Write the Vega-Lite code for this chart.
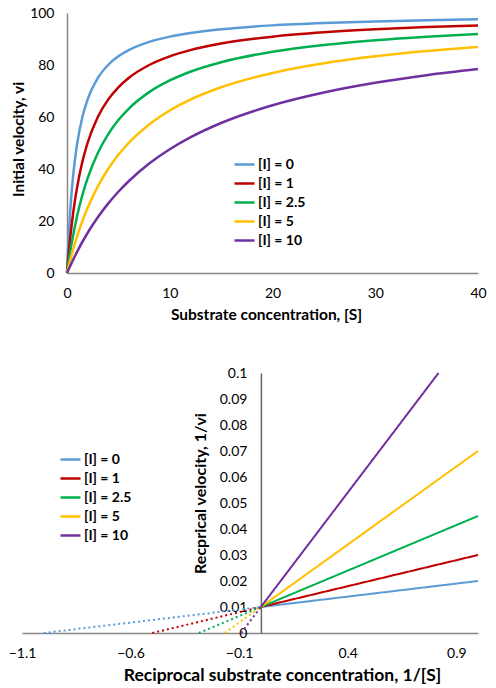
{
  "$schema": "https://vega.github.io/schema/vega-lite/v6.json",
  "padding": {"left": 8, "top": 6, "right": 5, "bottom": 5},
  "spacing": 43,
  "resolve": {"scale": {"color": "independent"}, "legend": {"color": "independent"}},
  "config": {
    "font": "Lato",
    "view": {"stroke": null},
    "axis": {
      "grid": false, "ticks": false, "domainColor": "#888888", "domainWidth": 1.5,
      "labelFont": "Lato", "labelFontSize": 14, "labelColor": "#000000",
      "labelFlush": false, "labelOverlap": false,
      "titleFont": "Lato", "titleFontWeight": "bold", "titleColor": "#000000"
    },
    "legend": {
      "symbolType": "stroke", "symbolSize": 400, "symbolStrokeWidth": 2.5,
      "labelFont": "Lato", "labelFontSize": 14, "labelFontWeight": "bold", "labelColor": "#000000",
      "labelOffset": 2, "rowPadding": -1.7, "padding": 0
    }
  },
  "datasets": {
    "mm": [
      {"i": "[I] = 0", "s": 0, "v": 0}, {"i": "[I] = 0", "s": 0.1, "v": 9.09}, {"i": "[I] = 0", "s": 0.2, "v": 16.67},
      {"i": "[I] = 0", "s": 0.3, "v": 23.08}, {"i": "[I] = 0", "s": 0.5, "v": 33.33}, {"i": "[I] = 0", "s": 0.75, "v": 42.86},
      {"i": "[I] = 0", "s": 1, "v": 50}, {"i": "[I] = 0", "s": 1.5, "v": 60}, {"i": "[I] = 0", "s": 2, "v": 66.67},
      {"i": "[I] = 0", "s": 3, "v": 75}, {"i": "[I] = 0", "s": 4, "v": 80}, {"i": "[I] = 0", "s": 5, "v": 83.33},
      {"i": "[I] = 0", "s": 6, "v": 85.71}, {"i": "[I] = 0", "s": 8, "v": 88.89}, {"i": "[I] = 0", "s": 10, "v": 90.91},
      {"i": "[I] = 0", "s": 12, "v": 92.31}, {"i": "[I] = 0", "s": 15, "v": 93.75}, {"i": "[I] = 0", "s": 20, "v": 95.24},
      {"i": "[I] = 0", "s": 25, "v": 96.15}, {"i": "[I] = 0", "s": 30, "v": 96.77}, {"i": "[I] = 0", "s": 35, "v": 97.22},
      {"i": "[I] = 0", "s": 40, "v": 97.56},
      {"i": "[I] = 1", "s": 0, "v": 0}, {"i": "[I] = 1", "s": 0.1, "v": 4.76}, {"i": "[I] = 1", "s": 0.2, "v": 9.09},
      {"i": "[I] = 1", "s": 0.3, "v": 13.04}, {"i": "[I] = 1", "s": 0.5, "v": 20}, {"i": "[I] = 1", "s": 0.75, "v": 27.27},
      {"i": "[I] = 1", "s": 1, "v": 33.33}, {"i": "[I] = 1", "s": 1.5, "v": 42.86}, {"i": "[I] = 1", "s": 2, "v": 50},
      {"i": "[I] = 1", "s": 3, "v": 60}, {"i": "[I] = 1", "s": 4, "v": 66.67}, {"i": "[I] = 1", "s": 5, "v": 71.43},
      {"i": "[I] = 1", "s": 6, "v": 75}, {"i": "[I] = 1", "s": 8, "v": 80}, {"i": "[I] = 1", "s": 10, "v": 83.33},
      {"i": "[I] = 1", "s": 12, "v": 85.71}, {"i": "[I] = 1", "s": 15, "v": 88.24}, {"i": "[I] = 1", "s": 20, "v": 90.91},
      {"i": "[I] = 1", "s": 25, "v": 92.59}, {"i": "[I] = 1", "s": 30, "v": 93.75}, {"i": "[I] = 1", "s": 35, "v": 94.59},
      {"i": "[I] = 1", "s": 40, "v": 95.24},
      {"i": "[I] = 2.5", "s": 0, "v": 0}, {"i": "[I] = 2.5", "s": 0.2, "v": 5.41}, {"i": "[I] = 2.5", "s": 0.5, "v": 12.5},
      {"i": "[I] = 2.5", "s": 1, "v": 22.22}, {"i": "[I] = 2.5", "s": 1.5, "v": 30}, {"i": "[I] = 2.5", "s": 2, "v": 36.36},
      {"i": "[I] = 2.5", "s": 3, "v": 46.15}, {"i": "[I] = 2.5", "s": 4, "v": 53.33}, {"i": "[I] = 2.5", "s": 5, "v": 58.82},
      {"i": "[I] = 2.5", "s": 6, "v": 63.16}, {"i": "[I] = 2.5", "s": 8, "v": 69.57}, {"i": "[I] = 2.5", "s": 10, "v": 74.07},
      {"i": "[I] = 2.5", "s": 12, "v": 77.42}, {"i": "[I] = 2.5", "s": 15, "v": 81.08}, {"i": "[I] = 2.5", "s": 20, "v": 85.11},
      {"i": "[I] = 2.5", "s": 25, "v": 87.72}, {"i": "[I] = 2.5", "s": 30, "v": 89.55}, {"i": "[I] = 2.5", "s": 35, "v": 90.91},
      {"i": "[I] = 2.5", "s": 40, "v": 91.95},
      {"i": "[I] = 5", "s": 0, "v": 0}, {"i": "[I] = 5", "s": 0.5, "v": 7.69}, {"i": "[I] = 5", "s": 1, "v": 14.29},
      {"i": "[I] = 5", "s": 1.5, "v": 20}, {"i": "[I] = 5", "s": 2, "v": 25}, {"i": "[I] = 5", "s": 3, "v": 33.33},
      {"i": "[I] = 5", "s": 4, "v": 40}, {"i": "[I] = 5", "s": 5, "v": 45.45}, {"i": "[I] = 5", "s": 6, "v": 50},
      {"i": "[I] = 5", "s": 8, "v": 57.14}, {"i": "[I] = 5", "s": 10, "v": 62.5}, {"i": "[I] = 5", "s": 12, "v": 66.67},
      {"i": "[I] = 5", "s": 15, "v": 71.43}, {"i": "[I] = 5", "s": 20, "v": 76.92}, {"i": "[I] = 5", "s": 25, "v": 80.65},
      {"i": "[I] = 5", "s": 30, "v": 83.33}, {"i": "[I] = 5", "s": 35, "v": 85.37}, {"i": "[I] = 5", "s": 40, "v": 86.96},
      {"i": "[I] = 10", "s": 0, "v": 0}, {"i": "[I] = 10", "s": 1, "v": 8.33}, {"i": "[I] = 10", "s": 2, "v": 15.38},
      {"i": "[I] = 10", "s": 3, "v": 21.43}, {"i": "[I] = 10", "s": 4, "v": 26.67}, {"i": "[I] = 10", "s": 5, "v": 31.25},
      {"i": "[I] = 10", "s": 6, "v": 35.29}, {"i": "[I] = 10", "s": 8, "v": 42.11}, {"i": "[I] = 10", "s": 10, "v": 47.62},
      {"i": "[I] = 10", "s": 12, "v": 52.17}, {"i": "[I] = 10", "s": 15, "v": 57.69}, {"i": "[I] = 10", "s": 20, "v": 64.52},
      {"i": "[I] = 10", "s": 25, "v": 69.44}, {"i": "[I] = 10", "s": 30, "v": 73.17}, {"i": "[I] = 10", "s": 35, "v": 76.09},
      {"i": "[I] = 10", "s": 40, "v": 78.43}
    ],
    "lb": [
      {"i": "[I] = 0", "seg": "dotted", "x": -1, "y": 0}, {"i": "[I] = 0", "seg": "dotted", "x": 0, "y": 0.01},
      {"i": "[I] = 0", "seg": "solid", "x": 0, "y": 0.01}, {"i": "[I] = 0", "seg": "solid", "x": 1, "y": 0.02},
      {"i": "[I] = 1", "seg": "dotted", "x": -0.5, "y": 0}, {"i": "[I] = 1", "seg": "dotted", "x": 0, "y": 0.01},
      {"i": "[I] = 1", "seg": "solid", "x": 0, "y": 0.01}, {"i": "[I] = 1", "seg": "solid", "x": 1, "y": 0.03},
      {"i": "[I] = 2.5", "seg": "dotted", "x": -0.2857, "y": 0}, {"i": "[I] = 2.5", "seg": "dotted", "x": 0, "y": 0.01},
      {"i": "[I] = 2.5", "seg": "solid", "x": 0, "y": 0.01}, {"i": "[I] = 2.5", "seg": "solid", "x": 1, "y": 0.045},
      {"i": "[I] = 5", "seg": "dotted", "x": -0.1667, "y": 0}, {"i": "[I] = 5", "seg": "dotted", "x": 0, "y": 0.01},
      {"i": "[I] = 5", "seg": "solid", "x": 0, "y": 0.01}, {"i": "[I] = 5", "seg": "solid", "x": 1, "y": 0.07},
      {"i": "[I] = 10", "seg": "dotted", "x": -0.0909, "y": 0}, {"i": "[I] = 10", "seg": "dotted", "x": 0, "y": 0.01},
      {"i": "[I] = 10", "seg": "solid", "x": 0, "y": 0.01}, {"i": "[I] = 10", "seg": "solid", "x": 0.8182, "y": 0.1}
    ]
  },
  "vconcat": [
    {
      "width": 411, "height": 260,
      "data": {"name": "mm"},
      "mark": {"type": "line", "interpolate": "monotone", "strokeWidth": 2.5},
      "encoding": {
        "x": {"field": "s", "type": "quantitative",
          "scale": {"domain": [0, 40], "nice": false},
          "axis": {"values": [0, 10, 20, 30, 40], "title": "Substrate concentration, [S]", "titleFontSize": 15.5, "labelPadding": 13, "titlePadding": 7, "titleX": 199}},
        "y": {"field": "v", "type": "quantitative",
          "scale": {"domain": [0, 100], "nice": false},
          "axis": {"values": [0, 20, 40, 60, 80, 100], "title": "Initial velocity, vi", "titleFontSize": 15.5, "labelPadding": 13, "titlePadding": 3, "titleY": 126}},
        "color": {"field": "i", "type": "nominal",
          "scale": {"domain": ["[I] = 0", "[I] = 1", "[I] = 2.5", "[I] = 5", "[I] = 10"], "range": ["#5B9BD5", "#C00000", "#00B050", "#FFC000", "#7030A0"]},
          "legend": {"orient": "none", "legendX": 166, "legendY": 140, "title": null}}
      }
    },
    {
      "width": 411, "height": 260,
      "data": {"name": "lb"},
      "mark": {"type": "line", "strokeWidth": 2},
      "encoding": {
        "x": {"field": "x", "type": "quantitative",
          "scale": {"domain": [-1.1, 1.0], "nice": false, "zero": false, "range": [-45, 411]},
          "axis": {"values": [-1.1, -0.6, -0.1, 0.4, 0.9], "title": "Reciprocal substrate concentration, 1/[S]", "titleFontSize": 17.5, "labelPadding": 13, "titlePadding": 6, "titleX": 215}},
        "y": {"field": "y", "type": "quantitative",
          "scale": {"domain": [0, 0.1], "nice": false},
          "axis": {"values": [0, 0.01, 0.02, 0.03, 0.04, 0.05, 0.06, 0.07, 0.08, 0.09, 0.1], "format": "~g", "offset": -193.9, "domainColor": "#666666",
            "title": "Recprical velocity, 1/vi", "titleFontSize": 16, "labelPadding": 14, "titlePadding": 11, "titleY": 120}},
        "color": {"field": "i", "type": "nominal",
          "scale": {"domain": ["[I] = 0", "[I] = 1", "[I] = 2.5", "[I] = 5", "[I] = 10"], "range": ["#5B9BD5", "#C00000", "#00B050", "#FFC000", "#7030A0"]},
          "legend": {"orient": "none", "legendX": -8, "legendY": 75, "title": null}},
        "strokeDash": {"field": "seg", "type": "nominal",
          "scale": {"domain": ["dotted", "solid"], "range": [[2, 3], [1, 0]]}, "legend": null}
      }
    }
  ]
}
